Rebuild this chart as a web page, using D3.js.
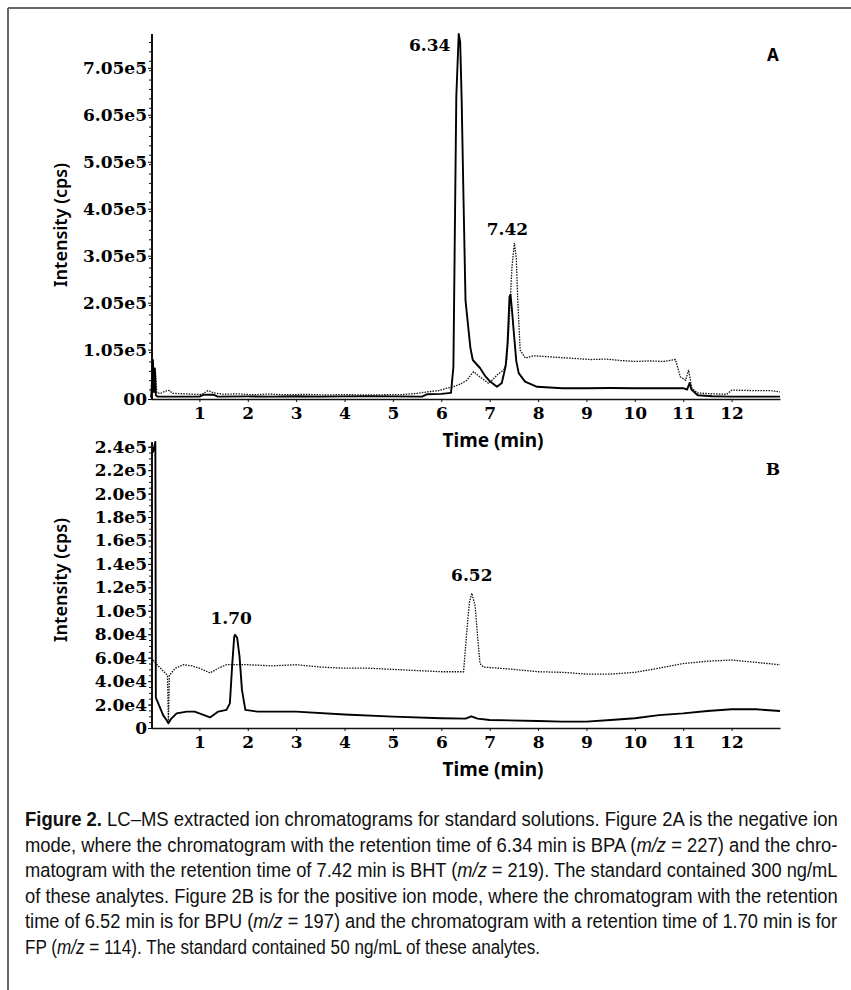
<!DOCTYPE html>
<html>
<head>
<meta charset="utf-8">
<script src="https://cdn.jsdelivr.net/npm/d3@7"></script>
<style>
  body { margin: 0; background: #fff; }
  svg { display: block; }
  .tick text { font-family: "DejaVu Serif", serif; font-weight: bold; font-size: 17px; fill: #000; }
  .domain, .tick line { stroke: #111; }
</style>
</head>
<body>
<svg id="fig" width="851" height="990"></svg>
<script>
// time axis (min)
const timeTicks = [1, 2, 3, 4, 5, 6, 7, 8, 9, 10, 11, 12];

// panel A: negative ion mode
const ticksA = [0, 1.05e5, 2.05e5, 3.05e5, 4.05e5, 5.05e5, 6.05e5, 7.05e5];
const tickLabelsA = ["00", "1.05e5", "2.05e5", "3.05e5", "4.05e5", "5.05e5", "6.05e5", "7.05e5"];
// BPA m/z 227 (solid)
const bpa = [[0.00, 3e3], [0.02, 2.5e4], [0.04, 8.3e4], [0.06, 1.5e4], [0.08, 6.5e4], [0.10, 8e3], [0.14, 5e3],
  [0.5, 5e3], [1.0, 5e3], [1.08, 9e3], [1.3, 9e3], [1.38, 5e3], [2.0, 5.5e3], [2.5, 5e3], [3.0, 6e3], [3.5, 5e3],
  [4.0, 5.5e3], [4.5, 6e3], [5.0, 5.5e3], [5.6, 5e3], [5.7, 1e4], [6.0, 1.1e4], [6.2, 1.3e4], [6.25, 6.8e4],
  [6.31, 6.44e5], [6.36, 7.77e5], [6.39, 7.6e5], [6.42, 6.4e5], [6.46, 4.2e5], [6.5, 2.1e5], [6.6, 1.1e5],
  [6.65, 8.3e4], [6.8, 6.6e4], [6.9, 5e4], [7.01, 3.7e4], [7.15, 2.6e4], [7.25, 3.4e4], [7.33, 7e4], [7.37, 1.2e5],
  [7.41, 2.18e5], [7.43, 2.22e5], [7.46, 1.9e5], [7.5, 1.4e5], [7.55, 8e4], [7.6, 5.5e4], [7.73, 3.7e4],
  [7.98, 2.6e4], [8.5, 2.3e4], [9, 2.3e4], [9.5, 2.35e4], [10, 2.3e4], [10.5, 2.3e4], [11.0, 2.3e4], [11.08, 2e4],
  [11.13, 3.4e4], [11.17, 2e4], [11.3, 8e3], [11.6, 6e3], [12.0, 5e3], [12.5, 5e3], [13.0, 5e3]];
// BHT m/z 219 (dotted)
const bht = [[0.00, 2e4], [0.03, 6e4], [0.06, 6.6e4], [0.09, 6.2e4], [0.12, 1.3e4], [0.2, 1.2e4], [0.3, 1.7e4],
  [0.38, 1.8e4], [0.45, 1.2e4], [0.7, 1.1e4], [0.9, 1.0e4], [1.05, 1.0e4], [1.18, 1.8e4], [1.3, 1.3e4], [1.5, 1.0e4],
  [1.8, 1.1e4], [2.1, 9e3], [2.4, 1.05e4], [2.8, 9e3], [3.2, 1.0e4], [3.6, 8.5e3], [4.0, 9.5e3], [4.4, 8.5e3],
  [4.8, 9e3], [5.2, 9.5e3], [5.5, 1.2e4], [5.77, 1.6e4], [5.95, 1.8e4], [6.11, 2.3e4], [6.25, 2.6e4], [6.4, 3.2e4],
  [6.53, 4e4], [6.6, 5e4], [6.67, 5.8e4], [6.8, 4.7e4], [6.98, 3.3e4], [7.08, 4.3e4], [7.15, 5.1e4], [7.29, 6.2e4],
  [7.35, 8e4], [7.39, 1.4e5], [7.46, 2.8e5], [7.51, 3.32e5], [7.55, 3.0e5], [7.58, 2.1e5], [7.63, 1.04e5],
  [7.74, 8.7e4], [7.9, 9.2e4], [8.2, 9.0e4], [8.5, 8.8e4], [8.8, 8.6e4], [9.1, 8.4e4], [9.4, 8.5e4], [9.7, 8.2e4],
  [10.0, 8.0e4], [10.3, 8.1e4], [10.6, 8.0e4], [10.84, 8.4e4], [10.94, 4.7e4], [11.05, 4e4], [11.11, 6.2e4],
  [11.18, 2.3e4], [11.29, 1.3e4], [11.6, 1.1e4], [11.9, 1e4], [12.0, 1.9e4], [12.4, 1.8e4], [12.8, 1.8e4], [13.0, 1.5e4]];

// panel B: positive ion mode
const ticksB = [0, 2e4, 4e4, 6e4, 8e4, 1e5, 1.2e5, 1.4e5, 1.6e5, 1.8e5, 2e5, 2.2e5, 2.4e5];
const tickLabelsB = ["0", "2.0e4", "4.0e4", "6.0e4", "8.0e4", "1.0e5", "1.2e5", "1.4e5", "1.6e5", "1.8e5", "2.0e5", "2.2e5", "2.4e5"];
// FP m/z 114 (solid)
const fp = [[0.04, 2.35e5], [0.09, 2.44e5], [0.1, 2.6e4], [0.18, 1.8e4], [0.25, 1.1e4], [0.32, 6.8e3], [0.36, 4e3],
  [0.42, 8e3], [0.53, 1.25e4], [0.74, 1.4e4], [0.9, 1.4e4], [1.0, 1.25e4], [1.22, 9e3], [1.39, 1.4e4], [1.56, 1.55e4],
  [1.63, 2.1e4], [1.68, 5.5e4], [1.72, 7.8e4], [1.74, 7.95e4], [1.78, 7.7e4], [1.83, 6.1e4], [1.88, 3.25e4],
  [1.95, 1.55e4], [2.2, 1.4e4], [3.0, 1.4e4], [4.0, 1.15e4], [5.0, 9.7e3], [6.0, 8.3e3], [6.5, 8e3], [6.62, 1.0e4],
  [6.75, 8e3], [7.0, 6.8e3], [8.0, 6e3], [8.5, 5.4e3], [9.0, 5.4e3], [9.5, 6.8e3], [10.0, 8.3e3], [10.5, 1.1e4],
  [11.0, 1.25e4], [11.5, 1.45e4], [12.0, 1.6e4], [12.5, 1.6e4], [13.0, 1.45e4]];
// BPU m/z 197 (dotted)
const bpu = [[0.04, 5.8e4], [0.1, 5.5e4], [0.2, 5.1e4], [0.29, 4.7e4], [0.34, 4.5e4], [0.36, 5e3], [0.38, 4.5e4],
  [0.5, 5.1e4], [0.67, 5.4e4], [0.85, 5.3e4], [1.0, 5.1e4], [1.22, 4.7e4], [1.39, 5.1e4], [1.56, 5.4e4], [2.0, 5.4e4],
  [2.5, 5.3e4], [3.0, 5.4e4], [3.5, 5.2e4], [4.0, 5.1e4], [4.5, 5.1e4], [5.0, 5.0e4], [5.5, 4.9e4], [6.0, 4.8e4],
  [6.46, 4.8e4], [6.53, 8.4e4], [6.58, 1.07e5], [6.63, 1.15e5], [6.7, 1.04e5], [6.75, 7.8e4], [6.8, 5.5e4],
  [6.87, 5.2e4], [7.5, 5.0e4], [8.0, 4.8e4], [8.5, 4.75e4], [9.0, 4.6e4], [9.5, 4.6e4], [10.0, 4.75e4],
  [10.5, 5.1e4], [11.0, 5.5e4], [11.5, 5.7e4], [12.0, 5.8e4], [12.5, 5.6e4], [13.0, 5.4e4]];

// peak annotations: [time, intensity, label]
const peaksA = [[6.36, 7.77e5, "6.34"], [7.51, 3.32e5, "7.42"]];
const peaksB = [[1.74, 7.95e4, "1.70"], [6.63, 1.15e5, "6.52"]];

const captionLines = [
  "**Figure 2.** LC–MS extracted ion chromatograms for standard solutions. Figure 2A is the negative ion",
  "mode, where the chromatogram with the retention time of 6.34 min is BPA (_m/z_ = 227) and the chro-",
  "matogram with the retention time of 7.42 min is BHT (_m/z_ = 219). The standard contained 300 ng/mL",
  "of these analytes. Figure 2B is for the positive ion mode, where the chromatogram with the retention",
  "time of 6.52 min is for BPU (_m/z_ = 197) and the chromatogram with a retention time of 1.70 min is for",
  "FP (_m/z_ = 114). The standard contained 50 ng/mL of these analytes."
];

const svg = d3.select('#fig');

// frame
svg.append('line').attr('x1', 8).attr('y1', 8).attr('x2', 851).attr('y2', 8)
  .attr('stroke', '#666').attr('stroke-width', 2);
svg.append('line').attr('x1', 8).attr('y1', 8).attr('x2', 8).attr('y2', 990)
  .attr('stroke', '#666').attr('stroke-width', 2);

function drawPanel(opt) {
  const x = d3.scaleLinear().domain([0, 13]).range([151, 780]);
  const y = d3.scaleLinear().domain([0, opt.ymax]).range([opt.bottom, opt.top]);
  const g = svg.append('g');

  // minor y ticks
  const minors = d3.range(0, opt.ymax, opt.minor);
  g.append('g')
    .attr('transform', 'translate(152,0)')
    .call(d3.axisLeft(y).tickValues(minors).tickSize(3).tickSizeOuter(0).tickFormat(''))
    .call(a => a.select('.domain').remove());

  g.append('g')
    .attr('transform', 'translate(152,0)')
    .call(d3.axisLeft(y).tickValues(opt.ticks).tickSize(4).tickPadding(1).tickSizeOuter(0)
      .tickFormat((d, i) => opt.labels[i]))
    .call(a => a.select('.domain').attr('stroke-width', 2).attr('d', `M0,${opt.bottom}V${opt.top}`));

  g.append('g')
    .attr('transform', `translate(0,${opt.bottom})`)
    .call(d3.axisBottom(x).tickValues(timeTicks).tickSize(3).tickPadding(5).tickSizeOuter(0))
    .call(a => a.select('.domain').attr('stroke-width', 1.5));

  const line = d3.line().x(d => x(d[0])).y(d => y(d[1]));

  g.append('path').datum(opt.dotted)
    .attr('d', line).attr('fill', 'none').attr('stroke', '#111')
    .attr('stroke-width', 1.3).attr('stroke-dasharray', '1.5,1.2');

  g.append('path').datum(opt.solid)
    .attr('d', line).attr('fill', 'none').attr('stroke', '#000')
    .attr('stroke-width', 1.9).attr('stroke-linejoin', 'round');

  g.selectAll('text.peak')
    .data(opt.peaks)
    .enter()
    .append('text')
    .attr('class', 'peak')
    .attr('x', (d, i) => x(d[0]) + opt.peakDx[i])
    .attr('y', (d, i) => y(d[1]) + opt.peakDy[i])
    .attr('text-anchor', 'middle')
    .style('font-family', '"DejaVu Serif", serif')
    .style('font-weight', 'bold')
    .style('font-size', '17px')
    .text(d => d[2]);

  svg.append('text')
    .attr('transform', `translate(67,${opt.labelY}) rotate(-90)`)
    .attr('text-anchor', 'middle')
    .style('font-family', '"Noto Sans", sans-serif')
    .style('font-weight', 600)
    .style('font-size', '18px')
    .text('Intensity (cps)');

  svg.append('text')
    .attr('x', 493).attr('y', opt.bottom + 48)
    .attr('text-anchor', 'middle')
    .style('font-family', '"Noto Sans", sans-serif')
    .style('font-weight', 'bold')
    .style('font-size', '19px')
    .text('Time (min)');

  svg.append('text')
    .attr('x', 773).attr('y', opt.letterY)
    .attr('text-anchor', 'middle')
    .style('font-family', opt.letterFont)
    .style('font-weight', 'bold')
    .style('font-size', '17px')
    .text(opt.letter);
}

drawPanel({
  top: 34, bottom: 399, ymax: 7.77e5, minor: 2e4,
  ticks: ticksA, labels: tickLabelsA, solid: bpa, dotted: bht,
  peaks: peaksA, peakDx: [-29, -7], peakDy: [17, -8],
  labelY: 225, letter: 'A', letterY: 61, letterFont: '"Noto Sans", sans-serif'
});

drawPanel({
  top: 442, bottom: 728, ymax: 2.44e5, minor: 5e3,
  ticks: ticksB, labels: tickLabelsB, solid: fp, dotted: bpu,
  peaks: peaksB, peakDx: [-4, 0], peakDy: [-11, -12],
  labelY: 580, letter: 'B', letterY: 475, letterFont: '"DejaVu Serif", serif'
});

// caption: condensed face, full lines fitted to the measure
const cap = svg.append('g')
  .style('font-family', '"Liberation Sans Narrow", "Liberation Sans", sans-serif')
  .style('font-size', '19.5px')
  .style('fill', '#111');

const capLeft = 25, capRight = 838, capLastRight = 503, capTop = 826, capStep = 25.5;
const rows = [];
captionLines.forEach((s, i) => {
  const t = cap.append('text').attr('x', 0).attr('y', 0);
  s.split(/(\*\*[^*]+\*\*|_[^_]+_)/).filter(p => p.length).forEach(p => {
    const ts = t.append('tspan');
    if (p.startsWith('**')) ts.style('font-weight', 'bold').text(p.slice(2, -2));
    else if (p.startsWith('_')) ts.style('font-style', 'italic').text(p.slice(1, -1));
    else ts.text(p);
  });
  rows.push(t);
});

const fullScales = [];
rows.forEach((t, i) => {
  const w = t.node().getComputedTextLength();
  let k;
  if (i < rows.length - 1) {
    k = (capRight - capLeft) / w;
    fullScales.push(k);
  } else {
    // last line: between the common squeeze and the printed line end
    k = (d3.mean(fullScales) + (capLastRight - capLeft) / w) / 2;
  }
  t.attr('transform', `translate(${capLeft},${capTop + i * capStep}) scale(${k},1)`);
});
</script>
</body>
</html>
